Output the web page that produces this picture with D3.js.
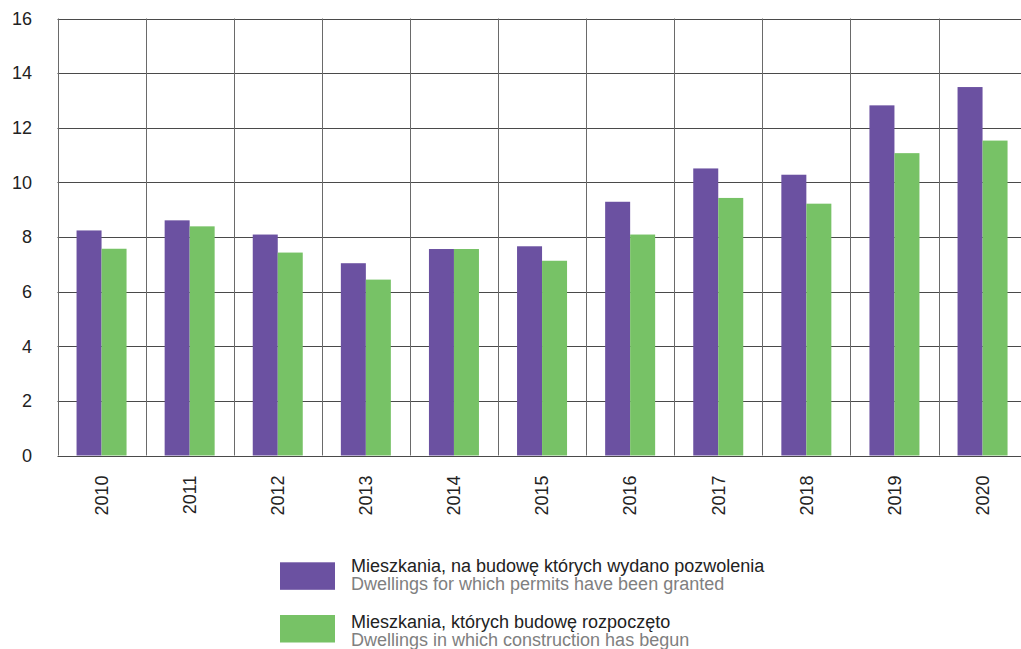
<!DOCTYPE html>
<html>
<head>
<meta charset="utf-8">
<script src="https://cdn.jsdelivr.net/npm/d3@7"></script>
<style>
  html, body { margin: 0; padding: 0; background: #fff; }
  svg { display: block; }
  text { font-family: "Liberation Sans", Arial, sans-serif; }
</style>
</head>
<body>
<svg id="chart" width="1021" height="649"></svg>
<script>
const years = ["2010","2011","2012","2013","2014","2015","2016","2017","2018","2019","2020"];
const permits = [8.24, 8.61, 8.09, 7.04, 7.56, 7.66, 9.29, 10.51, 10.28, 12.82, 13.49];
const started = [7.57, 8.39, 7.43, 6.44, 7.56, 7.13, 8.09, 9.43, 9.22, 11.07, 11.53];
const yTicks = [0, 2, 4, 6, 8, 10, 12, 14, 16];
const seriesKeys = ["permits", "started"];
const seriesColors = ["#6b51a1", "#77c266"];
const legendPl = ["Mieszkania, na budowę których wydano pozwolenia", "Mieszkania, których budowę rozpoczęto"];
const legendEn = ["Dwellings for which permits have been granted", "Dwellings in which construction has begun"];

const svg = d3.select("#chart");
const left = 57.5, step = 88.1;
const x = d3.scaleBand().domain(years).range([left, left + step * years.length]).padding(0);
const xs = d3.scaleBand().domain(seriesKeys).range([0, x.bandwidth()]).paddingInner(0).paddingOuter(0.762);
const y = d3.scaleLinear().domain([0, 16]).range([455.5, 18.5]);

const grid = svg.append("g");
grid.selectAll("line.h").data(yTicks).join("line")
  .attr("x1", left).attr("x2", 1021)
  .attr("y1", d => Math.round(y(d)) + 0.5).attr("y2", d => Math.round(y(d)) + 0.5)
  .attr("stroke", "#4a4a4a").attr("stroke-width", 1);
const bounds = years.map(d => x(d)).concat([x(years[years.length-1]) + x.bandwidth()]);
grid.selectAll("line.v").data(bounds).join("line")
  .attr("x1", d => Math.round(d) + 0.5).attr("x2", d => Math.round(d) + 0.5)
  .attr("y1", y(16)).attr("y2", y(0))
  .attr("stroke", "#6a6a6a").attr("stroke-width", 1);

const data = years.map((yr, i) => ({ year: yr, vals: [permits[i], started[i]] }));
const groups = svg.append("g").selectAll("g").data(data).join("g")
  .attr("transform", d => `translate(${x(d.year)},0)`);
groups.selectAll("rect").data(d => d.vals.map((v, j) => ({ key: seriesKeys[j], v, j }))).join("rect")
  .attr("x", d => xs(d.key))
  .attr("width", xs.bandwidth())
  .attr("y", d => y(d.v))
  .attr("height", d => y(0) - y(d.v))
  .attr("fill", d => seriesColors[d.j]);

const yAxis = d3.axisLeft(y).tickValues(yTicks).tickSize(0).tickPadding(0);
const ya = svg.append("g").attr("transform", "translate(32,0)").call(yAxis);
ya.select(".domain").remove();
ya.selectAll("text").attr("font-size", 18).attr("fill", "#222").attr("font-family", "Liberation Sans, Arial, sans-serif");

const xAxis = d3.axisBottom(x).tickSize(0).tickPadding(0);
const xa = svg.append("g").attr("transform", `translate(0,${y(0)})`).call(xAxis);
xa.select(".domain").remove();
xa.selectAll("text")
  .attr("font-size", 18).attr("fill", "#222").attr("font-family", "Liberation Sans, Arial, sans-serif")
  .attr("transform", "translate(0,20) rotate(-90)")
  .attr("text-anchor", "end").attr("dy", "0.35em").attr("y", 0).attr("x", 0);

const lg = svg.append("g");
const boxTops = [562.3, 615];
const base1 = [572, 627.5];
[0, 1].forEach(i => {
  lg.append("rect").attr("x", 280).attr("y", boxTops[i]).attr("width", 55).attr("height", 27.5).attr("fill", seriesColors[i]);
  lg.append("text").attr("x", 351).attr("y", base1[i]).attr("font-size", 18).attr("fill", "#222").text(legendPl[i]);
  lg.append("text").attr("x", 351).attr("y", base1[i] + 18).attr("font-size", 18).attr("fill", "#808080").text(legendEn[i]);
});
</script>
</body>
</html>
